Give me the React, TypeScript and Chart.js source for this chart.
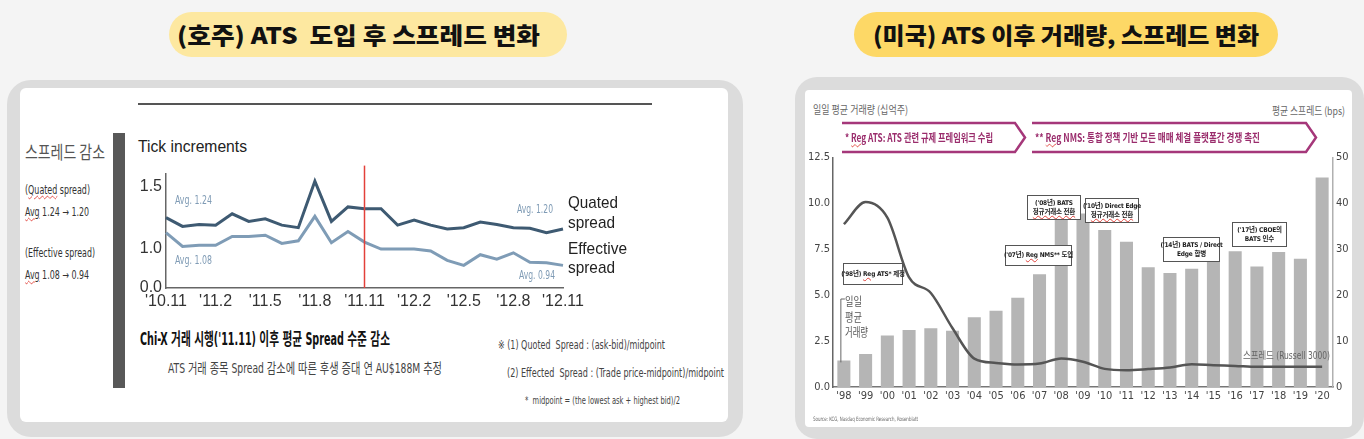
import React, { useEffect, useLayoutEffect, useRef } from "react";
import { Chart, registerables } from "chart.js";

Chart.register(...registerables);

// (호주) 월별 스프레드, tick 단위
const spreadMonths = [
  "'10.11", "'10.12", "'11.1", "'11.2", "'11.3", "'11.4", "'11.5", "'11.6", "'11.7",
  "'11.8", "'11.9", "'11.10", "'11.11", "'11.12", "'12.1", "'12.2", "'12.3", "'12.4",
  "'12.5", "'12.6", "'12.7", "'12.8", "'12.9", "'12.10", "'12.11",
];
const quotedSpread = [
  1.25, 1.18, 1.195, 1.19, 1.28, 1.22, 1.24, 1.19, 1.17, 1.54, 1.22, 1.335, 1.32,
  1.32, 1.19, 1.23, 1.19, 1.16, 1.17, 1.215, 1.195, 1.17, 1.165, 1.13, 1.16,
];
const effectiveSpread = [
  1.13, 1.02, 1.03, 1.03, 1.1, 1.1, 1.11, 1.045, 1.065, 1.26, 1.05, 1.14, 1.055,
  1.0, 1.0, 1.0, 0.985, 0.91, 0.87, 0.955, 0.92, 0.97, 0.895, 0.89, 0.87,
];
// broken axis: the bottom tick is labelled 0.0
const spreadTickValues = [0.69, 1.0, 1.5];
const spreadTickLabels = ["0.0", "1.0", "1.5"];
const chiXLaunch = "'11.11";

// (미국) 연도별 거래량 / 스프레드
const years = [
  "'98", "'99", "'00", "'01", "'02", "'03", "'04", "'05", "'06", "'07", "'08", "'09",
  "'10", "'11", "'12", "'13", "'14", "'15", "'16", "'17", "'18", "'19", "'20",
];
const volumeBn = [
  1.45, 1.8, 2.8, 3.1, 3.2, 3.07, 3.8, 4.15, 4.87, 6.15, 9.3, 9.45, 8.55, 7.92, 6.52,
  6.21, 6.45, 6.93, 7.4, 6.57, 7.35, 6.99, 11.42,
];
const spreadBps = [
  35.5, 40.3, 36.9, 23.9, 20.5, 12.8, 6.2, 5.25, 4.9, 5.1, 6.2, 5.5, 3.95, 3.65, 3.9,
  4.25, 4.95, 4.75, 4.6, 4.4, 4.4, 4.4, 4.4,
];

const NARROW = '"Liberation Sans Narrow", "DejaVu Sans Condensed", "Noto Sans CJK KR", sans-serif';
const KR = '"Noto Sans CJK KR", "Liberation Sans", sans-serif';
const ARIAL = '"Liberation Sans", Arial, sans-serif';

type TxtProps = {
  x: number;
  y: number;
  w?: number;
  size: number;
  color?: string;
  weight?: number;
  family?: string;
  children: React.ReactNode;
};

// text box squeezed (or stretched) to the width measured on the picture
function Txt({ x, y, w, size, color = "#333", weight = 400, family = NARROW, children }: TxtProps) {
  const ref = useRef<HTMLDivElement>(null);
  useLayoutEffect(() => {
    const fit = () => {
      const el = ref.current;
      if (!el) return;
      el.style.transform = "translateY(-50%)";
      if (!w) return;
      const natural = el.getBoundingClientRect().width;
      if (natural > 0) el.style.transform = `translateY(-50%) scaleX(${w / natural})`;
    };
    fit();
    if (document.fonts) document.fonts.ready.then(fit);
  }, [w]);
  return (
    <div
      ref={ref}
      style={{
        position: "absolute",
        left: x,
        top: y,
        fontSize: size,
        lineHeight: 1.2,
        color,
        fontWeight: weight,
        fontFamily: family,
        whiteSpace: "pre",
        transformOrigin: "0 0",
        transform: "translateY(-50%)",
      }}
    >
      {children}
    </div>
  );
}

const Squiggle = ({ children }: { children: React.ReactNode }) => (
  <span style={{ textDecoration: "underline wavy #e0433c", textDecorationThickness: 1 }}>{children}</span>
);

function NoteBox({ x, y, w, h, lines }: { x: number; y: number; w: number; h: number; lines: React.ReactNode[] }) {
  return (
    <div
      style={{
        position: "absolute",
        left: x,
        top: y,
        width: w,
        height: h,
        boxSizing: "border-box",
        border: "1px solid #555",
        background: "#fff",
        display: "flex",
        flexDirection: "column",
        justifyContent: "center",
        alignItems: "center",
        fontFamily: NARROW,
        fontSize: 6.5,
        lineHeight: "9px",
        fontWeight: 600,
        color: "#222",
        whiteSpace: "nowrap",
        letterSpacing: -0.2,
      }}
    >
      {lines.map((l, i) => (
        <div key={i}>{l}</div>
      ))}
    </div>
  );
}

export default function App() {
  const leftRef = useRef<HTMLCanvasElement>(null);
  const rightRef = useRef<HTMLCanvasElement>(null);

  useEffect(() => {
    document.body.style.margin = "0";
    document.body.style.background = "#f4f4f4";
    if (!leftRef.current || !rightRef.current) return;

    const launchLine = {
      id: "launchLine",
      afterDatasetsDraw(chart: any) {
        const { ctx, chartArea, scales } = chart;
        const x = scales.x.getPixelForValue(spreadMonths.indexOf(chiXLaunch));
        ctx.save();
        ctx.strokeStyle = "#e3403a";
        ctx.lineWidth = 1.5;
        ctx.beginPath();
        ctx.moveTo(x, chartArea.top - 8);
        ctx.lineTo(x, chartArea.bottom);
        ctx.stroke();
        ctx.restore();
      },
    };

    const left = new Chart(leftRef.current, {
      type: "line",
      data: {
        labels: spreadMonths,
        datasets: [
          {
            label: "Quated spread",
            data: quotedSpread,
            borderColor: "#3e5a72",
            borderWidth: 3,
            pointRadius: 0,
            tension: 0,
          },
          {
            label: "Effective spread",
            data: effectiveSpread,
            borderColor: "#7f9cb6",
            borderWidth: 3,
            pointRadius: 0,
            tension: 0,
          },
        ],
      },
      options: {
        responsive: false,
        animation: false,
        layout: { padding: { top: 10, right: 27, left: 0, bottom: 0 } },
        plugins: { legend: { display: false }, tooltip: { enabled: false } },
        scales: {
          x: {
            grid: { display: false, drawTicks: false },
            border: { color: "#666", width: 1.5 },
            ticks: {
              autoSkip: false,
              maxRotation: 0,
              padding: 4,
              color: "#333",
              font: { family: ARIAL, size: 16 },
              callback: (_v: any, i: number) => (i % 3 === 0 ? spreadMonths[i] : ""),
            },
            afterFit: (s: any) => {
              s.height = 25;
            },
          },
          y: {
            min: spreadTickValues[0],
            max: 1.6,
            grid: { display: false, drawTicks: false },
            border: { color: "#666", width: 1.5 },
            afterBuildTicks: (s: any) => {
              s.ticks = spreadTickValues.map((value) => ({ value }));
            },
            ticks: {
              padding: 4,
              color: "#333",
              font: { family: ARIAL, size: 16 },
              callback: (v: any) => spreadTickLabels[spreadTickValues.indexOf(v)] ?? "",
            },
            afterFit: (s: any) => {
              s.width = 36;
            },
          },
        },
      },
      plugins: [launchLine],
    });

    // leader from the "일일 평균 거래량" label down to the first bar
    const leader = {
      id: "leader",
      afterDraw(chart: any) {
        const { ctx, scales } = chart;
        const x = scales.x.getPixelForValue(0) - 3;
        const yTop = 299 - 148;
        const yBot = scales.y.getPixelForValue(volumeBn[0]) + 2;
        ctx.save();
        ctx.strokeStyle = "#666";
        ctx.lineWidth = 1;
        ctx.beginPath();
        ctx.moveTo(x + 4, yTop);
        ctx.lineTo(x, yTop);
        ctx.lineTo(x, yBot);
        ctx.stroke();
        ctx.restore();
      },
    };

    const tickFont = { family: NARROW, size: 11 };
    const right = new Chart(rightRef.current, {
      type: "bar",
      data: {
        labels: years,
        datasets: [
          {
            type: "line",
            label: "스프레드 (Russell 3000)",
            data: spreadBps,
            yAxisID: "y2",
            borderColor: "#555",
            borderWidth: 2.5,
            pointRadius: 0,
            cubicInterpolationMode: "monotone",
          } as any,
          {
            type: "bar",
            label: "일일 평균 거래량",
            data: volumeBn,
            yAxisID: "y",
            backgroundColor: "#b5b5b5",
            barPercentage: 0.6,
            categoryPercentage: 1,
          },
        ],
      },
      options: {
        responsive: false,
        animation: false,
        layout: { padding: { top: 7, right: 0, left: 0, bottom: 0 } },
        plugins: { legend: { display: false }, tooltip: { enabled: false } },
        scales: {
          x: {
            offset: true,
            grid: { display: false, drawTicks: false },
            border: { color: "#777", width: 1.5 },
            ticks: { autoSkip: false, maxRotation: 0, padding: 3, color: "#444", font: tickFont },
            afterFit: (s: any) => {
              s.height = 18;
            },
          },
          y: {
            position: "left",
            min: 0,
            max: 12.5,
            grid: { display: false, drawTicks: false },
            border: { color: "#666", width: 1.5 },
            ticks: {
              stepSize: 2.5,
              padding: 3,
              color: "#444",
              font: tickFont,
              callback: (v: any) => Number(v).toFixed(1),
            },
            afterFit: (s: any) => {
              s.width = 28;
            },
          },
          y2: {
            position: "right",
            min: 0,
            max: 50,
            grid: { display: false, drawTicks: false },
            border: { color: "#b0b0b0", width: 1.5 },
            ticks: { stepSize: 10, padding: 3, color: "#444", font: tickFont },
            afterFit: (s: any) => {
              s.width = 19;
            },
          },
        },
      },
      plugins: [leader],
    });

    return () => {
      left.destroy();
      right.destroy();
    };
  }, []);

  return (
    <div
      style={{
        position: "relative",
        width: 1364,
        height: 439,
        overflow: "hidden",
        background: "#f4f4f4",
        fontFamily: KR,
      }}
    >
      {/* title pills */}
      <div style={{ position: "absolute", left: 169, top: 12, width: 398, height: 45, borderRadius: 23, background: "#fde8a0" }} />
      <div style={{ position: "absolute", left: 854, top: 12, width: 424, height: 45, borderRadius: 23, background: "#fdd866" }} />
      <Txt x={177} y={35} w={363} size={23} weight={900} color="#111" family={KR}>
        (호주) ATS  도입 후 스프레드 변화
      </Txt>
      <Txt x={873} y={35} w={386} size={23} weight={900} color="#111" family={KR}>
        (미국) ATS 이후 거래량, 스프레드 변화
      </Txt>

      {/* panels */}
      <div style={{ position: "absolute", left: 7, top: 80, width: 736, height: 357, borderRadius: 24, background: "#dcdcdc" }} />
      <div style={{ position: "absolute", left: 20, top: 88, width: 708, height: 334, borderRadius: 6, background: "#fff" }} />
      <div style={{ position: "absolute", left: 795, top: 77, width: 569, height: 362, borderRadius: 22, background: "#dcdcdc" }} />
      <div style={{ position: "absolute", left: 805, top: 90, width: 547, height: 337, borderRadius: 4, background: "#fff" }} />

      {/* left panel */}
      <div style={{ position: "absolute", left: 138, top: 103, width: 514, height: 2, background: "#555" }} />
      <div style={{ position: "absolute", left: 113, top: 133, width: 12, height: 255, background: "#585858" }} />
      <Txt x={25} y={152} w={80} size={18} color="#555" family={KR}>
        스프레드 감소
      </Txt>
      <Txt x={25} y={190} w={65} size={12}>
        (<Squiggle>Quated</Squiggle> spread)
      </Txt>
      <Txt x={25} y={212} w={64} size={12}>
        <Squiggle>Avg</Squiggle> 1.24 → 1.20
      </Txt>
      <Txt x={25} y={253} w={70} size={12}>
        (Effective spread)
      </Txt>
      <Txt x={25} y={275} w={64} size={12}>
        <Squiggle>Avg</Squiggle> 1.08 → 0.94
      </Txt>
      <Txt x={138} y={147} w={109} size={17} color="#222" family={ARIAL}>
        Tick increments
      </Txt>

      <canvas
        ref={leftRef}
        width={460}
        height={153}
        style={{ position: "absolute", left: 130, top: 160, width: 460, height: 153 }}
      />

      <Txt x={175} y={200} w={37} size={13} color="#7f9bb5">
        Avg. 1.24
      </Txt>
      <Txt x={175} y={260} w={37} size={13} color="#7f9bb5">
        Avg. 1.08
      </Txt>
      <Txt x={517} y={209} w={36} size={13} color="#7f9bb5">
        Avg. 1.20
      </Txt>
      <Txt x={519} y={275} w={36} size={13} color="#7f9bb5">
        Avg. 0.94
      </Txt>
      <Txt x={568} y={203} w={50} size={17} color="#222" family={ARIAL}>
        Quated
      </Txt>
      <Txt x={568} y={223} w={47} size={17} color="#222" family={ARIAL}>
        spread
      </Txt>
      <Txt x={568} y={249} w={59} size={17} color="#222" family={ARIAL}>
        Effective
      </Txt>
      <Txt x={568} y={268} w={47} size={17} color="#222" family={ARIAL}>
        spread
      </Txt>

      <Txt x={140} y={339} w={250} size={17} weight={700} color="#111">
        Chi-X 거래 시행('11.11) 이후 평균 Spread 수준 감소
      </Txt>
      <Txt x={168} y={368} w={274} size={14} color="#444">
        ATS 거래 종목 Spread 감소에 따른 후생 증대 연 AU$188M 추정
      </Txt>
      <Txt x={498} y={345} w={167} size={12} color="#444">
        ※ (1) Quoted  Spread : (ask-bid)/midpoint
      </Txt>
      <Txt x={507} y={373} w={217} size={12} color="#444">
        (2) Effected  Spread : (Trade price-midpoint)/midpoint
      </Txt>
      <Txt x={525} y={401} w={155} size={10} color="#444">
        *  midpoint = (the lowest ask + highest bid)/2
      </Txt>

      {/* right panel */}
      <Txt x={813} y={110} w={95} size={11} color="#666" family={KR}>
        일일 평균 거래량 (십억주)
      </Txt>
      <Txt x={1272} y={111} w={73} size={11} color="#666" family={KR}>
        평균 스프레드 (bps)
      </Txt>
      <svg width={1364} height={439} style={{ position: "absolute", left: 0, top: 0, pointerEvents: "none" }}>
        <polyline
          points="842,123 1015,123 1025,137.5 1015,152 842,152"
          fill="none"
          stroke="#a5377a"
          strokeWidth={2.5}
        />
        <polyline
          points="1032,123 1306,123 1316,137.5 1306,152 1032,152"
          fill="none"
          stroke="#a5377a"
          strokeWidth={2.5}
        />
      </svg>
      <Txt x={845} y={138} w={148} size={11} weight={700} color="#9a2c6c" family={KR}>
        * <Squiggle>Reg</Squiggle> ATS: ATS 관련 규제 프레임워크 수립
      </Txt>
      <Txt x={1035} y={138} w={225} size={11} weight={700} color="#9a2c6c" family={KR}>
        ** <Squiggle>Reg</Squiggle> NMS: 통합 정책 기반 모든 매매 체결 플랫폼간 경쟁 촉진
      </Txt>

      <canvas
        ref={rightRef}
        width={547}
        height={257}
        style={{ position: "absolute", left: 805, top: 148, width: 547, height: 257 }}
      />

      <NoteBox x={843} y={263} w={60} h={22} lines={[<>('98년) <Squiggle>Reg</Squiggle> ATS* 제정</>]} />
      <NoteBox x={1005} y={245} w={67} h={21} lines={[<>('07년) <Squiggle>Reg</Squiggle> NMS** 도입</>]} />
      <NoteBox x={1027} y={195} w={54} h={25} lines={["('08년) BATS", <Squiggle>정규거래소 전환</Squiggle>]} />
      <NoteBox x={1085} y={198} w={54} h={25} lines={["('10년) Direct Edge", <Squiggle>정규거래소 전환</Squiggle>]} />
      <NoteBox x={1163} y={237} w={57} h={25} lines={["('14년) BATS / Direct", "Edge 합병"]} />
      <NoteBox x={1232} y={222} w={55} h={25} lines={["('17년) CBOE의", "BATS 인수"]} />

      <Txt x={845} y={301} w={17} size={12} color="#555" family={KR}>
        일일
      </Txt>
      <Txt x={845} y={317} w={17} size={12} color="#555" family={KR}>
        평균
      </Txt>
      <Txt x={845} y={332} w={23} size={12} color="#555" family={KR}>
        거래량
      </Txt>
      <Txt x={1243} y={356} w={87} size={10} color="#666">
        스프레드 (Russell 3000)
      </Txt>
      <Txt x={813} y={419} w={105} size={6} color="#666">
        Source: KCG, Nasdaq Economic Research, Rosenblatt
      </Txt>
    </div>
  );
}
